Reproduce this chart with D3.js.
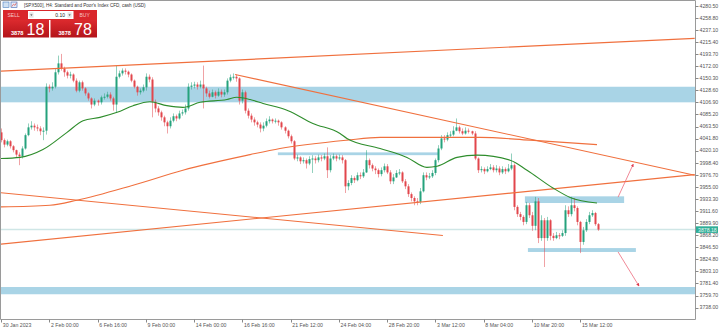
<!DOCTYPE html>
<html>
<head>
<meta charset="utf-8">
<script src="https://cdn.jsdelivr.net/npm/d3@7"></script>
<style>
  body { margin: 0; background: #fff; }
  svg { display: block; }
  text { font-family: "Liberation Sans", Arial, sans-serif; }
</style>
</head>
<body>
<svg id="chart" width="720" height="329"></svg>
<script>
// SPX500 H4 candles, open of each bar = previous close
const firstOpen = 4053
const closes = [
  4039,4031,4037,4028,4021,4013,4010,4024,4048,4062,
  4065,4062,4060,4055,4056,4135,4132,4135,4161,4177,
  4168,4161,4155,4157,4146,4128,4143,4132,4123,4114,
  4103,4110,4107,4116,4117,4121,4114,4103,4153,4159,
  4164,4162,4157,4146,4135,4125,4128,4134,4153,4148,
  4108,4096,4089,4080,4071,4064,4074,4082,4078,4087,
  4089,4096,4135,4137,4139,4135,4139,4132,4123,4117,
  4125,4119,4126,4121,4125,4146,4152,4153,4150,4110,
  4125,4092,4083,4076,4071,4067,4060,4065,4073,4076,
  4073,4074,4071,4062,4056,4046,4037,4006,4008,4001,
  4003,3997,4005,4006,4003,4008,4006,4010,3985,4006,
  4010,4006,4008,4003,3956,3962,3971,3967,3976,3974,
  3981,4003,3994,3988,3985,3978,3985,3992,3981,3965,
  3972,3980,3981,3965,3956,3942,3935,3929,3928,3947,
  3976,3972,3974,3980,4003,4024,4042,4040,4048,4049,
  4056,4062,4055,4051,4056,4055,4051,4006,3985,3987,
  3983,3987,3990,3985,3988,3981,3987,3983,3988,3994,
  3919,3906,3901,3892,3922,3904,3885,3929,3863,3895,
  3863,3895,3867,3863,3868,3867,3872,3913,3906,3922,
  3917,3892,3856,3877,3892,3904,3908,3888,3878.18
]
const highs = [
  4060,4042,4040,4039,4030,4022,4017,4028,4051,4069,
  4073,4069,4067,4064,4062,4141,4139,4143,4168,4191,
  4194,4171,4164,4162,4159,4150,4146,4146,4134,4125,
  4116,4114,4112,4119,4123,4126,4125,4117,4173,4164,
  4168,4168,4164,4159,4148,4137,4132,4139,4159,4157,
  4152,4112,4100,4092,4083,4074,4080,4087,4085,4092,
  4094,4103,4141,4143,4144,4143,4146,4173,4135,4128,
  4130,4128,4132,4130,4130,4150,4157,4159,4157,4152,
  4130,4128,4096,4087,4080,4074,4071,4071,4078,4082,
  4078,4078,4076,4073,4064,4058,4049,4039,4013,4010,
  4008,4006,4010,4012,4010,4013,4012,4015,4026,4012,
  4015,4013,4013,4012,4005,3967,3976,3974,3981,3981,
  3987,4021,4006,3997,3992,3988,3990,3997,3996,3985,
  3978,3985,3987,3983,3969,3960,3945,3938,3935,3953,
  3981,3981,3980,3985,4006,4030,4048,4048,4053,4055,
  4064,4078,4065,4060,4062,4060,4056,4055,4008,3992,
  3990,3992,3996,3994,3994,3992,3992,3990,3996,4015,
  3997,3922,3910,3904,3928,3926,3910,3937,3935,3904,
  3899,3901,3897,3872,3874,3872,3877,3922,3920,3937,
  3935,3920,3894,3883,3897,3910,3913,3910,3890
]
const lows = [
  4035,4026,4028,4024,4017,4008,3994,4006,4022,4046,
  4058,4056,4055,4048,4039,4049,4125,4128,4132,4157,
  4164,4153,4150,4150,4143,4125,4125,4128,4119,4110,
  4096,4100,4101,4103,4112,4114,4110,4092,4089,4150,
  4155,4157,4152,4143,4132,4119,4121,4125,4128,4143,
  4080,4089,4083,4074,4064,4051,4060,4071,4073,4076,
  4083,4085,4092,4130,4132,4130,4132,4096,4117,4114,
  4116,4114,4117,4116,4117,4121,4143,4148,4144,4103,
  4105,4087,4078,4071,4065,4062,4053,4055,4062,4069,
  4069,4069,4065,4058,4051,4042,4033,4003,4001,3996,
  3997,3988,3994,3980,3997,3999,4001,4003,3971,3981,
  4003,4001,4003,3997,3944,3949,3958,3962,3965,3969,
  3971,3980,3988,3983,3978,3972,3974,3981,3978,3960,
  3960,3971,3976,3962,3951,3937,3929,3922,3922,3924,
  3945,3967,3969,3971,3976,3999,4021,4035,4037,4044,
  4046,4055,4051,4048,4049,4051,4048,4003,3980,3981,
  3978,3981,3985,3981,3981,3976,3978,3978,3981,3985,
  3913,3901,3895,3886,3888,3899,3876,3877,3854,3858,
  3811,3858,3859,3858,3861,3861,3865,3867,3901,3902,
  3911,3886,3836,3851,3874,3888,3901,3885,3876
]

const dateLabels = ["30 Jan 2023", "2 Feb 00:00", "6 Feb 16:00", "9 Feb 00:00", "14 Feb 00:00",
  "16 Feb 16:00", "21 Feb 12:00", "24 Feb 04:00", "28 Feb 20:00", "3 Mar 12:00",
  "8 Mar 04:00", "10 Mar 20:00", "15 Mar 12:00"]
const barsPerLabel = 16
const priceTicks = [3738.00, 3759.70, 3781.40, 3803.10, 3824.80, 3846.50, 3868.20, 3889.90,
  3911.60, 3933.30, 3955.00, 3976.70, 3998.40, 4020.10, 4041.80, 4063.50, 4085.20, 4106.90,
  4128.60, 4150.30, 4172.00, 4193.70, 4215.40, 4237.10, 4258.80, 4280.50]

// moving averages, read as [bar, price]
const greenMA = [[0,4006],[6.3,4008],[13.9,4022],[21.9,4053],[27.2,4074],[32.8,4080],[38.5,4089],
  [43.8,4101],[49.4,4108],[55,4101],[60.3,4098],[66,4107],[74.9,4112],[78.2,4116],[82.6,4112],
  [86.9,4105],[95.2,4092],[103.4,4069],[112.4,4051],[114.7,4042],[125.7,4024],[134.6,4008],
  [141.2,3990],[144.6,3992],[151.2,4008],[157.8,4012],[168.8,4003],[174.4,3985],[183,3953],
  [188.7,3936],[197.6,3926]]
const orangeMA = [[0,3919],[16.2,3922],[25.2,3931],[43.8,3958],[60.3,3985],[82.6,4013],
  [92.5,4024],[114.7,4039],[125.7,4044],[142.2,4044],[158.8,4044],[175.4,4039],[197.6,4031]]

// trend lines [bar1, price1, bar2, price2]
const trendLines = [
  [-0.3, 4163, 230, 4222],
  [77.6, 4157, 230, 3976],
  [-0.3, 3852, 230, 3977],
  [-0.3, 3944.5, 146.5, 3867.5]
]
// zones [bar1, bar2, top, bottom]
const zones = [
  [-1, 231, 4135, 4107],
  [-1, 231, 3775, 3762],
  [91.8, 144.9, 4017, 4012],
  [173.7, 206.6, 3938, 3926],
  [174.7, 210.5, 3845, 3838]
]
const arrows = [
  [204.6, 3936.5, 209.6, 3995.6],
  [204.6, 3838, 211.5, 3777]
]
const bid = 3878.18
const ask = 3878.78

const plot = { left: 1, right: 695, top: 1, bottom: 319 }

const svg = d3.select("#chart")
const x = d3.scaleLinear().domain([0, 230]).range([1, 694.7])
const y = d3.scaleLinear().domain([3738, 4280.5]).range([307.6, 5.8])

svg.append("defs").append("clipPath").attr("id", "clip")
  .append("rect").attr("x", plot.left).attr("y", plot.top)
  .attr("width", plot.right - plot.left).attr("height", plot.bottom - plot.top)
const defs = svg.select("defs")
defs.append("marker").attr("id", "head").attr("viewBox", "0 0 10 10")
  .attr("refX", 8).attr("refY", 5).attr("markerWidth", 4).attr("markerHeight", 4)
  .attr("orient", "auto")
  .append("path").attr("d", "M0,0L10,5L0,10z").attr("fill", "#e03a4c")
const grad = defs.append("linearGradient").attr("id", "redbox").attr("x1", 0).attr("y1", 0).attr("x2", 0).attr("y2", 1)
grad.append("stop").attr("offset", 0).attr("stop-color", "#dc2a2e")
grad.append("stop").attr("offset", 1).attr("stop-color", "#b3141a")

const g = svg.append("g").attr("clip-path", "url(#clip)")

// zones
g.selectAll(".zone").data(zones).join("rect")
  .attr("x", d => x(d[0])).attr("width", d => x(d[1]) - x(d[0]))
  .attr("y", d => y(d[2])).attr("height", d => y(d[3]) - y(d[2]))
  .attr("fill", "#a9d4e6")

// bid line
g.append("line").attr("x1", plot.left).attr("x2", plot.right)
  .attr("y1", y(bid)).attr("y2", y(bid))
  .attr("stroke", "#cfe6e6").attr("stroke-width", 1.5)

// candles
const candles = closes.map((c, i) => {
  const o = i === 0 ? firstOpen : closes[i - 1]
  return { i, o, c, h: Math.max(highs[i], o, c), l: Math.min(lows[i], o, c) }
})
const up = "#25a27c", down = "#e2464c"
const cg = g.append("g")
cg.selectAll("line").data(candles).join("line")
  .attr("x1", d => Math.round(x(d.i)) + 0.5).attr("x2", d => Math.round(x(d.i)) + 0.5)
  .attr("y1", d => y(d.h)).attr("y2", d => y(d.l))
  .attr("stroke", d => d.c >= d.o ? up : down).attr("stroke-opacity", 0.5)
cg.selectAll("rect").data(candles).join("rect")
  .attr("x", d => Math.round(x(d.i)) - 0.5).attr("width", 2)
  .attr("y", d => y(Math.max(d.o, d.c)))
  .attr("height", d => Math.max(1, Math.abs(y(d.o) - y(d.c))))
  .attr("fill", d => d.c >= d.o ? up : down)

// orange lines
g.selectAll(".trend").data(trendLines).join("line")
  .attr("x1", d => x(d[0])).attr("y1", d => y(d[1]))
  .attr("x2", d => x(d[2])).attr("y2", d => y(d[3]))
  .attr("stroke", "#f0703e").attr("stroke-width", 1.1)

const maLine = d3.line().x(d => x(d[0])).y(d => y(d[1])).curve(d3.curveMonotoneX)
g.append("path").attr("d", maLine(orangeMA)).attr("fill", "none")
  .attr("stroke", "#f0703e").attr("stroke-width", 1.1)
g.append("path").attr("d", maLine(greenMA)).attr("fill", "none")
  .attr("stroke", "#2e8d2c").attr("stroke-width", 1.1)

// arrows
g.selectAll(".arrow").data(arrows).join("line")
  .attr("x1", d => x(d[0])).attr("y1", d => y(d[1]))
  .attr("x2", d => x(d[2])).attr("y2", d => y(d[3]))
  .attr("stroke", "#ec6b7c").attr("stroke-width", 0.8)
  .attr("marker-end", "url(#head)")

// frame
svg.append("path").attr("d", `M0.5,${plot.bottom + 0.5}V0.5H${plot.right + 0.5}V${plot.bottom + 0.5}H0.5`)
  .attr("fill", "none").attr("stroke", "#9a9a9a").attr("stroke-width", 1)

// price axis
const ya = svg.append("g")
ya.selectAll("line").data(priceTicks).join("line")
  .attr("x1", plot.right + 0.5).attr("x2", plot.right + 3.5)
  .attr("y1", d => Math.round(y(d)) + 0.5).attr("y2", d => Math.round(y(d)) + 0.5)
  .attr("stroke", "#888")
ya.selectAll("text").data(priceTicks).join("text")
  .attr("x", plot.right + 4.5).attr("y", d => y(d) + 1.8)
  .attr("font-size", 5.2).attr("fill", "#555")
  .text(d => d.toFixed(2))

// current price tag
svg.append("rect").attr("x", plot.right + 1).attr("y", y(bid) - 3.3)
  .attr("width", 22).attr("height", 6.6).attr("fill", "#2fae97")
svg.append("text").attr("x", plot.right + 3).attr("y", y(bid) + 1.9)
  .attr("font-size", 5.2).attr("fill", "#e8f6f3").text(bid.toFixed(2))

// time axis
const xa = svg.append("g")
xa.selectAll("line").data(dateLabels).join("line")
  .attr("x1", (d, k) => Math.round(x(k * barsPerLabel)) + 0.5)
  .attr("x2", (d, k) => Math.round(x(k * barsPerLabel)) + 0.5)
  .attr("y1", plot.bottom + 0.5).attr("y2", plot.bottom + 3.5)
  .attr("stroke", "#888")
xa.selectAll("text").data(dateLabels).join("text")
  .attr("x", (d, k) => x(k * barsPerLabel) + 1.8).attr("y", 327)
  .attr("font-size", 5.2).attr("fill", "#555")
  .text(d => d)

// header
svg.append("rect").attr("x", 3).attr("y", 2).attr("width", 6).attr("height", 5.5)
  .attr("fill", "#cfe0f2").attr("stroke", "#4a7fc0").attr("stroke-width", 0.6)
svg.append("rect").attr("x", 11).attr("y", 2).attr("width", 6).attr("height", 5.5)
  .attr("fill", "#e9eef8").attr("stroke", "#3b63b5").attr("stroke-width", 0.6)
svg.append("path").attr("d", "M11.8,6.6L13.5,4.2L15,5.4L16.4,2.8").attr("fill", "none")
  .attr("stroke", "#d23a3a").attr("stroke-width", 0.6)
svg.append("text").attr("x", 24).attr("y", 7.3).attr("font-size", 4.6).attr("fill", "#333")
  .text("[SPX500], H4:  Standard and Poor's Index CFD, cash (USD)")

// one-click trading panel
const panel = svg.append("g")
panel.append("rect").attr("x", 3).attr("y", 10).attr("width", 94).attr("height", 10).attr("fill", "#d9262b")
panel.append("rect").attr("x", 28).attr("y", 11).attr("width", 45.5).attr("height", 8).attr("fill", "#fff")
panel.append("rect").attr("x", 29.3).attr("y", 12.3).attr("width", 4.2).attr("height", 5.4).attr("fill", "#e6e6e6")
panel.append("rect").attr("x", 67.5).attr("y", 12.3).attr("width", 4.2).attr("height", 5.4).attr("fill", "#e6e6e6")
panel.append("path").attr("d", "M30.3,14.4h2.2l-1.1,1.4z M68.5,14.4h2.2l-1.1,1.4z").attr("fill", "#333")
panel.append("text").attr("x", 65).attr("y", 17.2).attr("text-anchor", "end")
  .attr("font-size", 5).attr("fill", "#222").text("0.10")
panel.append("text").attr("x", 7.5).attr("y", 17.2).attr("font-size", 5).attr("fill", "#f6c6c6").text("SELL")
panel.append("text").attr("x", 79.5).attr("y", 17.2).attr("font-size", 5).attr("fill", "#f6c6c6").text("BUY")

const quotes = [
  { x: 3, w: 46, price: bid },
  { x: 50.5, w: 46.5, price: ask }
]
quotes.forEach(q => {
  const s = q.price.toFixed(2)
  panel.append("rect").attr("x", q.x).attr("y", 20).attr("width", q.w).attr("height", 17.5)
    .attr("fill", "url(#redbox)")
  panel.append("text").attr("x", q.x + 8).attr("y", 35).attr("font-size", 5.6)
    .attr("font-weight", "bold").attr("fill", "#fff").text(s.slice(0, 4))
  panel.append("text").attr("x", q.x + 23.5).attr("y", 35).attr("font-size", 16)
    .attr("fill", "#fff").text(s.slice(5, 7))
})
</script>
</body>
</html>
